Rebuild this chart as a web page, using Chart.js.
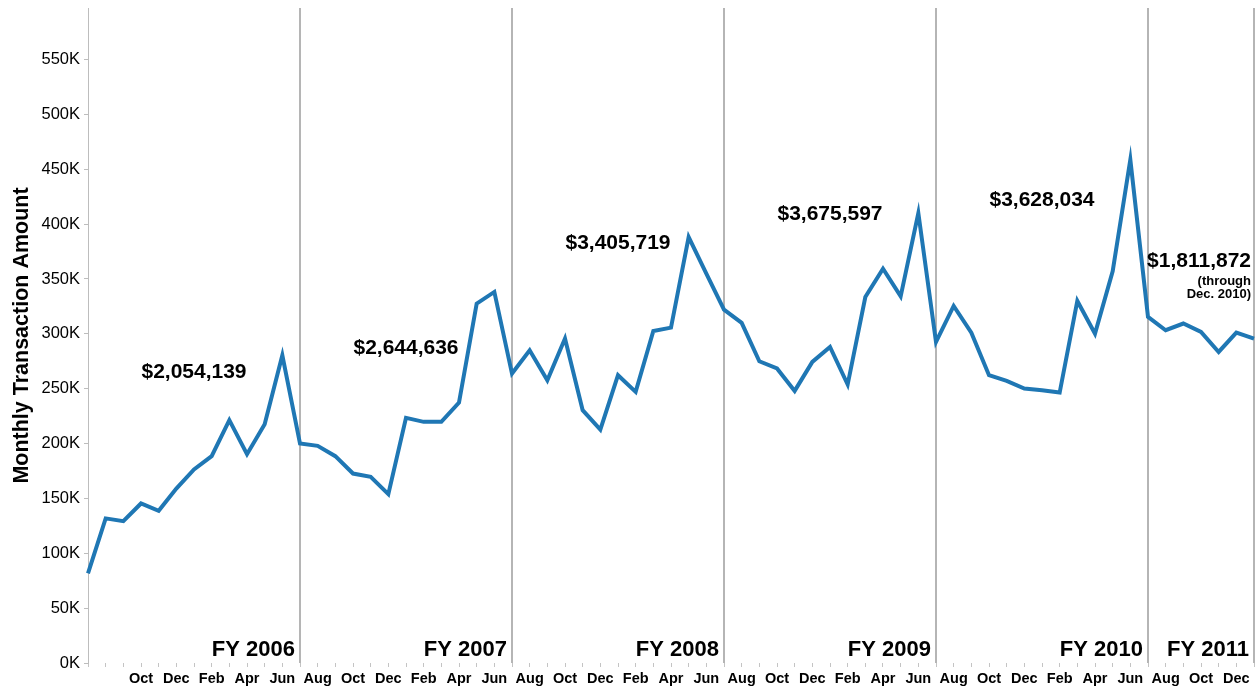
<!DOCTYPE html>
<html>
<head>
<meta charset="utf-8">
<script src="https://cdn.jsdelivr.net/npm/chart.js@4.4.0/dist/chart.umd.min.js"></script>
<style>
html, body { margin: 0; padding: 0; background: #fff; }
canvas { display: block; }
</style>
</head>
<body>
<canvas id="chart" width="1256" height="687"></canvas>
<script>
const FONT = '"Liberation Sans", Arial, sans-serif';

// one entry per month, Jul 2005 .. Jan 2011
const months = [
    'Jul', 'Aug', 'Sep', 'Oct', 'Nov', 'Dec', 'Jan', 'Feb', 'Mar', 'Apr', 'May', 'Jun', // FY 2006
    'Jul', 'Aug', 'Sep', 'Oct', 'Nov', 'Dec', 'Jan', 'Feb', 'Mar', 'Apr', 'May', 'Jun', // FY 2007
    'Jul', 'Aug', 'Sep', 'Oct', 'Nov', 'Dec', 'Jan', 'Feb', 'Mar', 'Apr', 'May', 'Jun', // FY 2008
    'Jul', 'Aug', 'Sep', 'Oct', 'Nov', 'Dec', 'Jan', 'Feb', 'Mar', 'Apr', 'May', 'Jun', // FY 2009
    'Jul', 'Aug', 'Sep', 'Oct', 'Nov', 'Dec', 'Jan', 'Feb', 'Mar', 'Apr', 'May', 'Jun', // FY 2010
    'Jul', 'Aug', 'Sep', 'Oct', 'Nov', 'Dec', 'Jan'                                     // FY 2011
];

const amounts = [
    81700, 131800, 129300, 145400, 138700, 159000, 176400, 188500, 221300, 190300, 217700, 280500,
    200000, 197900, 188500, 172700, 169700, 153900, 223400, 219800, 219800, 237400, 327600, 338200,
    263800, 285000, 257700, 295700, 230400, 212800, 262300, 247100, 302600, 305700, 388200, 355000,
    322000, 310000, 275000, 268400, 248000, 274400, 288000, 253800, 333600, 359400, 334200, 410100,
    292600, 325400, 301100, 262300, 257100, 250200, 248600, 246500, 330000, 300200, 357000, 458700,
    315400, 303300, 309400, 301700, 283500, 301100, 295700
];

const fiscalYears = ['FY 2006', 'FY 2007', 'FY 2008', 'FY 2009', 'FY 2010', 'FY 2011'];
const fyTotals = ['$2,054,139', '$2,644,636', '$3,405,719', '$3,675,597', '$3,628,034', '$1,811,872'];
const fyStartIndex = [0, 12, 24, 36, 48, 60];
const yTicks = [0, 50000, 100000, 150000, 200000, 250000, 300000, 350000, 400000, 450000, 500000, 550000];

// vertical level (in dollars) where each total label sits
const totalLabelLevel = [265000, 287000, 382500, 409000, 421700, 366000];

const fyEnd = (i) => (i + 1 < fyStartIndex.length ? fyStartIndex[i + 1] : months.length - 1);

const fyPanels = {
    id: 'fyPanels',
    beforeDatasetsDraw(chart) {
        const { ctx, chartArea, scales: { x } } = chart;
        ctx.save();
        ctx.strokeStyle = '#b5b5b5';
        ctx.lineWidth = 2;
        for (let i = 0; i < fiscalYears.length; i++) {
            const px = Math.round(x.getPixelForValue(fyEnd(i)));
            ctx.beginPath();
            ctx.moveTo(px, chartArea.top);
            ctx.lineTo(px, chartArea.bottom);
            ctx.stroke();
        }
        ctx.restore();
    },
    afterDatasetsDraw(chart) {
        const { ctx, chartArea, scales: { x, y } } = chart;
        ctx.save();
        ctx.fillStyle = '#000';

        // FY names, bottom right of each panel
        ctx.font = `bold 22px ${FONT}`;
        ctx.textAlign = 'right';
        ctx.textBaseline = 'alphabetic';
        for (let i = 0; i < fiscalYears.length; i++) {
            ctx.fillText(fiscalYears[i], x.getPixelForValue(fyEnd(i)) - 5, chartArea.bottom - 7);
        }

        // yearly totals
        ctx.textBaseline = 'middle';
        for (let i = 0; i < fyTotals.length; i++) {
            const py = y.getPixelForValue(totalLabelLevel[i]);
            if (i === fyTotals.length - 1) {
                const px = x.getPixelForValue(fyEnd(i)) - 3;
                ctx.textAlign = 'right';
                ctx.font = `bold 21px ${FONT}`;
                ctx.fillText(fyTotals[i], px, py);
                ctx.font = `bold 13px ${FONT}`;
                ctx.fillText('(through', px, py + 20);
                ctx.fillText('Dec. 2010)', px, py + 33);
            } else {
                const px = x.getPixelForValue((fyStartIndex[i] + fyEnd(i)) / 2);
                ctx.textAlign = 'center';
                ctx.font = `bold 21px ${FONT}`;
                ctx.fillText(fyTotals[i], px, py);
            }
        }
        ctx.restore();
    }
};

const chart = new Chart(document.getElementById('chart'), {
    type: 'line',
    data: {
        labels: months,
        datasets: [{
            label: 'Monthly Transaction Amount',
            data: amounts,
            borderColor: '#1f77b4',
            borderWidth: 4,
            pointRadius: 0,
            tension: 0,
            fill: false,
            clip: false
        }]
    },
    options: {
        responsive: false,
        animation: false,
        layout: {
            padding: { top: 8, right: 2, left: 0, bottom: 0 }
        },
        plugins: {
            legend: { display: false },
            tooltip: { enabled: false }
        },
        scales: {
            x: {
                type: 'category',
                offset: false,
                grid: {
                    display: true,
                    drawOnChartArea: false,
                    drawTicks: true,
                    tickLength: 4,
                    color: '#c4c4c4'
                },
                border: { display: false },
                ticks: {
                    autoSkip: false,
                    maxRotation: 0,
                    minRotation: 0,
                    padding: 3,
                    color: '#000',
                    font: { family: FONT, size: 14.5, weight: 'bold' },
                    callback: (value, index) => (index % 2 === 1 && index >= 3 && index < months.length - 1) ? months[index] : ''
                },
                afterFit: (scale) => {
                    scale.height = 24;
                    scale.paddingLeft = 0;
                    scale.paddingRight = 0;
                }
            },
            y: {
                min: 0,
                max: 597000,
                afterBuildTicks: (scale) => { scale.ticks = yTicks.map(v => ({ value: v })); },
                grid: {
                    drawOnChartArea: false,
                    tickLength: 4,
                    color: '#bdbdbd'
                },
                border: { display: true, color: '#bdbdbd', dash: [2, 2] },
                ticks: {
                    padding: 4,
                    color: '#000',
                    font: { family: FONT, size: 16.5 },
                    callback: (value) => `${value / 1000}K`
                },
                title: {
                    display: true,
                    text: 'Monthly Transaction Amount',
                    color: '#000',
                    font: { family: FONT, size: 21.5, weight: 'bold' },
                    padding: { top: 9, bottom: 0 }
                },
                afterFit: (scale) => {
                    scale.width = 88;
                    scale.paddingTop = 0;
                    scale.paddingBottom = 0;
                }
            }
        }
    },
    plugins: [fyPanels]
});
</script>
</body>
</html>
